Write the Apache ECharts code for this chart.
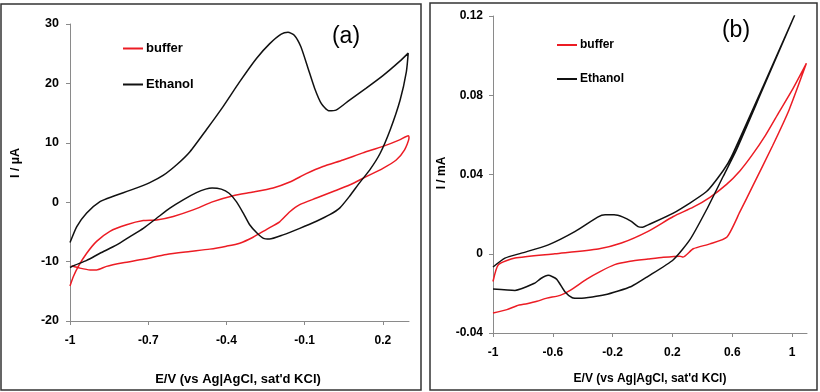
<!DOCTYPE html>
<html>
<head>
<meta charset="utf-8">
<script src="https://cdn.jsdelivr.net/npm/echarts@6/dist/echarts.min.js"></script>
<style>
html,body{margin:0;padding:0;background:#fff;}
#chart{width:820px;height:392px;}
</style>
</head>
<body>
<div id="chart"></div>
<script>
// ---------- data ----------
const seriesNames = ['buffer', 'Ethanol'];

// Panel (a): E (V) vs I (µA)
const ethanolA = [
  [-1,-6.8],[-0.974,-4.1],[-0.936,-1.8],[-0.885,0.1],[-0.834,1.0],[-0.757,2.2],[-0.694,3.3],[-0.643,4.5],
  [-0.591,6.3],[-0.54,8.5],[-0.477,12.2],[-0.413,16.1],[-0.349,20.3],[-0.285,24.2],[-0.234,26.7],[-0.19,28.3],
  [-0.164,28.6],[-0.14,28.1],[-0.115,26.2],[-0.089,22.8],[-0.062,19.2],[-0.036,16.6],[-0.008,15.4],[0.02,15.5],
  [0.072,17.2],[0.136,19.2],[0.2,21.3],[0.264,23.7],[0.297,25.1],
  [0.29,22.0],[0.266,17.2],[0.228,12.2],[0.189,8.2],[0.149,5.4],[0.111,3.3],[0.072,1.0],[0.034,-1.0],
  [-0.004,-2.1],[-0.055,-3.2],[-0.119,-4.4],[-0.183,-5.5],[-0.235,-6.2],[-0.258,-6.1],[-0.283,-5.2],
  [-0.311,-3.8],[-0.336,-1.8],[-0.362,0.1],[-0.39,1.5],[-0.42,2.2],[-0.455,2.4],[-0.48,2.2],[-0.515,1.6],
  [-0.566,0.4],[-0.617,-1.0],[-0.668,-2.7],[-0.719,-4.4],[-0.77,-5.8],[-0.821,-7.2],[-0.885,-8.6],
  [-0.936,-9.8],[-0.981,-10.6],[-1,-11.0]
];
const bufferA = [
  [-1,-14.1],[-0.987,-12.5],[-0.968,-10.8],[-0.936,-8.6],[-0.898,-6.6],[-0.847,-4.9],[-0.783,-3.8],
  [-0.719,-3.1],[-0.668,-3.0],[-0.604,-2.4],[-0.528,-1.3],[-0.451,0.1],[-0.374,1.1],[-0.298,1.7],
  [-0.221,2.4],[-0.157,3.4],[-0.094,4.8],[-0.03,6.0],[0.047,7.1],[0.123,8.3],[0.2,9.4],[0.264,10.5],[0.297,11.2],
  [0.3,10.8],[0.283,8.8],[0.251,7.1],[0.2,5.7],[0.136,4.3],[0.072,2.9],[0.009,1.8],[-0.055,0.7],
  [-0.119,-0.4],[-0.157,-1.6],[-0.196,-3.3],[-0.247,-4.6],[-0.298,-5.9],[-0.349,-6.9],[-0.4,-7.4],
  [-0.464,-7.9],[-0.54,-8.3],[-0.63,-8.8],[-0.719,-9.6],[-0.796,-10.2],[-0.86,-10.8],[-0.898,-11.4],
  [-0.923,-11.4],[-0.962,-11.1],[-0.994,-10.7]
];

// Panel (b): E (V) vs I (mA)
const ethanolB = [
  [-1,-0.0067],[-0.92,-0.0022],[-0.81,0.0003],[-0.63,0.0045],[-0.45,0.0113],[-0.3,0.0185],[-0.25,0.0197],
  [-0.19,0.0197],[-0.13,0.0185],[-0.075,0.0163],[-0.03,0.0137],[0.0,0.0134],[0.037,0.0146],[0.206,0.0205],
  [0.428,0.0314],[0.54,0.042],[0.595,0.049],[0.806,0.0844],[1.018,0.1205],
  [0.806,0.0835],[0.628,0.0524],[0.539,0.039],[0.428,0.0222],[0.317,0.0071],[0.206,-0.003],[0.037,-0.0114],
  [-0.075,-0.0165],[-0.252,-0.0207],[-0.42,-0.0225],[-0.47,-0.0222],[-0.519,-0.0192],[-0.575,-0.0128],
  [-0.631,-0.0109],[-0.68,-0.0125],[-0.72,-0.0148],[-0.853,-0.0185],[-1,-0.0178]
];
const bufferB = [
  [-1,-0.0140],[-0.964,-0.0055],[-0.853,-0.0022],[-0.586,0],[-0.297,0.0024],[-0.141,0.0054],[0.037,0.0113],
  [0.206,0.0188],[0.339,0.0235],[0.451,0.0285],[0.562,0.0350],[0.651,0.0418],[0.73,0.0495],[0.82,0.0595],
  [0.913,0.0715],[1.007,0.0835],[1.096,0.0961],
  [0.98,0.0726],[0.869,0.0544],[0.74,0.0346],[0.651,0.0211],[0.565,0.0085],[0.451,0.005],[0.339,0.0025],
  [0.27,-0.0017],[0.25,-0.0012],[0.139,-0.0018],[0.037,-0.0027],[-0.083,-0.0038],[-0.186,-0.0055],
  [-0.284,-0.009],[-0.373,-0.0128],[-0.484,-0.0185],[-0.551,-0.021],[-0.64,-0.0224],[-0.706,-0.024],
  [-0.773,-0.0252],[-0.84,-0.0262],[-0.907,-0.0282],[-1,-0.0299]
];

const xTicksA = [-1, -0.7, -0.4, -0.1, 0.2];
const yTicksA = [-20, -10, 0, 10, 20, 30];
const xTicksB = [-1, -0.6, -0.2, 0.2, 0.6, 1];
const yTicksB = [-0.04, 0, 0.04, 0.08, 0.12];

const xTitle = "E/V (vs Ag|AgCl, sat'd KCl)";
const yTitleA = 'I / µA';
const yTitleB = 'I / mA';

// ---------- chart ----------
const FONT = '"Liberation Sans", Arial, sans-serif';
const RED = '#ec1c24';
const BLACK = '#111111';
const AXC = '#8a8a8a';

function xAxisCfg(gi, min, max, ticks, fs) {
  return {
    type: 'value', gridIndex: gi, min: min, max: max,
    splitLine: {show: false},
    axisLine: {onZero: false, lineStyle: {color: AXC, width: 1}},
    axisTick: {show: true, length: 4, lineStyle: {color: AXC}, customValues: ticks},
    axisLabel: {customValues: ticks, margin: 14, color: '#000', fontFamily: FONT, fontWeight: 'bold', fontSize: fs,
      formatter: v => String(+v.toFixed(2))}
  };
}
function yAxisCfg(gi, min, max, ticks, margin, fs) {
  return {
    type: 'value', gridIndex: gi, min: min, max: max,
    splitLine: {show: false},
    axisLine: {show: true, onZero: false, lineStyle: {color: AXC, width: 1}},
    axisTick: {show: true, length: 4, lineStyle: {color: AXC}, customValues: ticks},
    axisLabel: {customValues: ticks, margin: margin, color: '#000', fontFamily: FONT, fontWeight: 'bold', fontSize: fs,
      formatter: v => String(+v.toFixed(2))}
  };
}
function lineSeries(name, data, color, idx) {
  return {
    name: name, type: 'line', xAxisIndex: idx, yAxisIndex: idx, data: data,
    showSymbol: false, smooth: 0.2, animation: false,
    lineStyle: {color: color, width: 1.5}, itemStyle: {color: color}
  };
}
function legendCfg(left, top, gap, fs) {
  return {
    data: seriesNames, orient: 'vertical', left: left, top: top, itemGap: gap, padding: 0,
    icon: 'rect', itemWidth: 20, itemHeight: 2, selectedMode: false,
    textStyle: {fontFamily: FONT, fontWeight: 'bold', fontSize: fs, color: '#000', padding: [0, 0, 0, -2]}
  };
}

const chart = echarts.init(document.getElementById('chart'), null, {renderer: 'canvas'});
chart.setOption({
  animation: false,
  backgroundColor: '#fff',
  grid: [
    {left: 70, top: 24, width: 339, height: 297},
    {left: 493, top: 16, width: 314, height: 317}
  ],
  xAxis: [xAxisCfg(0, -1, 0.3, xTicksA, 12), xAxisCfg(1, -1, 1.1, xTicksB, 12)],
  yAxis: [yAxisCfg(0, -20, 30, yTicksA, 11, 12.5), yAxisCfg(1, -0.04, 0.12, yTicksB, 10, 12)],
  legend: [legendCfg(123, 42, 23, 13), legendCfg(557, 39, 22, 12)],
  series: [
    lineSeries('buffer', bufferA, RED, 0),
    lineSeries('Ethanol', ethanolA, BLACK, 0),
    lineSeries('buffer', bufferB, RED, 1),
    lineSeries('Ethanol', ethanolB, BLACK, 1)
  ],
  graphic: [
    {type: 'rect', shape: {x: 1, y: 4, width: 420, height: 386}, style: {fill: 'none', stroke: '#333', lineWidth: 1.5}, silent: true},
    {type: 'rect', shape: {x: 430, y: 3, width: 387, height: 387}, style: {fill: 'none', stroke: '#333', lineWidth: 1.5}, silent: true},
    {type: 'text', x: 346, y: 37, style: {text: '(a)', font: '23px ' + FONT, fill: '#000', textAlign: 'center', textVerticalAlign: 'middle'}},
    {type: 'text', x: 736, y: 31, style: {text: '(b)', font: '23px ' + FONT, fill: '#000', textAlign: 'center', textVerticalAlign: 'middle'}},
    {type: 'text', x: 238, y: 379, style: {text: xTitle, font: 'bold 13px ' + FONT, fill: '#000', textAlign: 'center', textVerticalAlign: 'middle'}},
    {type: 'text', x: 650, y: 379, style: {text: xTitle, font: 'bold 12px ' + FONT, fill: '#000', textAlign: 'center', textVerticalAlign: 'middle'}},
    {type: 'text', x: 16, y: 163, rotation: Math.PI / 2, style: {text: yTitleA, font: 'bold 12.5px ' + FONT, fill: '#000', textAlign: 'center', textVerticalAlign: 'middle'}},
    {type: 'text', x: 442, y: 173, rotation: Math.PI / 2, style: {text: yTitleB, font: 'bold 12px ' + FONT, fill: '#000', textAlign: 'center', textVerticalAlign: 'middle'}}
  ]
});
</script>
</body>
</html>
